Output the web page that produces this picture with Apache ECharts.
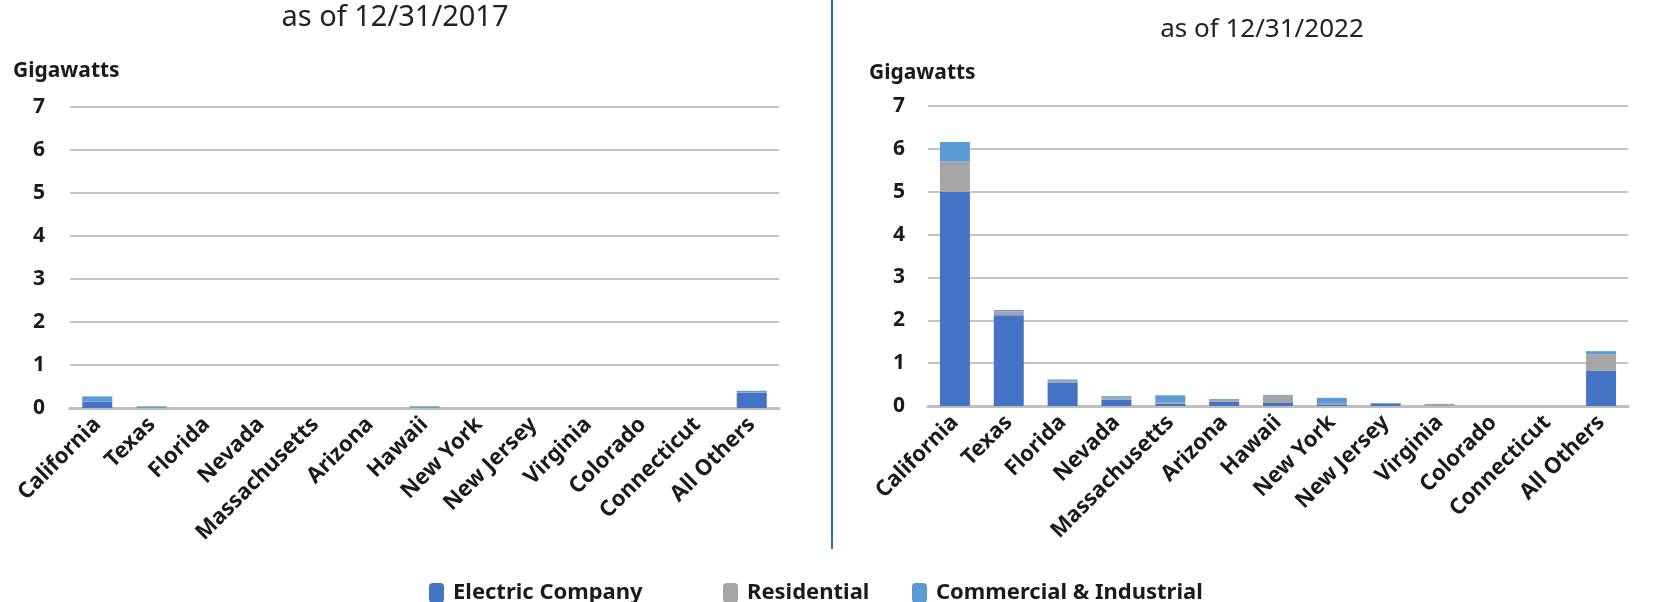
<!DOCTYPE html>
<html>
<head>
<meta charset="utf-8">
<script src="https://cdn.jsdelivr.net/npm/echarts@6/dist/echarts.min.js"></script>
<style>
html,body{margin:0;padding:0;background:#fff;}
#chart{width:1657px;height:602px;}
</style>
</head>
<body>
<div id="chart"></div>
<script>
const categories = ['California','Texas','Florida','Nevada','Massachusetts','Arizona','Hawaii','New York','New Jersey','Virginia','Colorado','Connecticut','All Others'];
const yTicks = [0,1,2,3,4,5,6,7];
const seriesNames = ['Electric Company','Residential','Commercial & Industrial'];
const titles = ['as of 12/31/2017','as of 12/31/2022'];
const yName = 'Gigawatts';

const elec2017 = [0.15,0.01,0,0,0,0,0.01,0,0,0,0,0,0.36];
const res2017  = [0,0,0,0,0,0,0,0,0,0,0,0,0.01];
const ci2017   = [0.12,0.03,0,0,0,0,0.03,0,0,0,0,0,0.03];

const elec2022 = [5.00,2.12,0.55,0.15,0.06,0.10,0.07,0.04,0.06,0.01,0,0,0.82];
const res2022  = [0.71,0.09,0.04,0.05,0.03,0.04,0.17,0.03,0,0.04,0,0,0.39];
const ci2022   = [0.45,0.03,0.03,0.03,0.16,0.02,0.02,0.12,0.01,0,0,0,0.07];

const colors = ['#4472C4','#A5A5A5','#5B9BD5'];
const FONT = '"Noto Sans", "Open Sans", sans-serif';

const chart = echarts.init(document.getElementById('chart'), null, {renderer:'canvas'});

function xAxisCfg(gridIndex){
  return {
    type:'category', gridIndex, data:categories,
    axisTick:{show:false},
    axisLine:{lineStyle:{color:'#BFBFBF', width:3}},
    axisLabel:{rotate:45, interval:0, margin:13, color:'#1a1a1a', fontFamily:FONT, fontWeight:'bold', fontSize:22}
  };
}
function yAxisCfg(gridIndex, margin){
  return {
    type:'value', gridIndex, min:yTicks[0], max:yTicks[yTicks.length-1], interval:1,
    axisLine:{show:false}, axisTick:{show:false},
    splitLine:{lineStyle:{color:'#C4C4C4', width:2}},
    axisLabel:{margin, color:'#1a1a1a', fontFamily:FONT, fontWeight:'bold', fontSize:21}
  };
}
const datasets = [[elec2017,res2017,ci2017],[elec2022,res2022,ci2022]];
const series = [];
datasets.forEach((ds, gi) => {
  ds.forEach((arr, si) => {
    series.push({
      name: seriesNames[si], type:'bar', stack:'s'+gi,
      xAxisIndex:gi, yAxisIndex:gi, barWidth:30,
      itemStyle:{color:colors[si]},
      data:arr
    });
  });
});

const legendLefts = [424, 718, 907];
const legends = seriesNames.map((n,i) => ({
  data:[{name:n, icon:'roundRect'}], left:legendLefts[i], top:577,
  itemWidth:15, itemHeight:20, itemGap:0,
  textStyle:{fontFamily:FONT, fontWeight:'bold', fontSize:22, color:'#1a1a1a', padding:[0,0,0,4]},
  selectedMode:false
}));

chart.setOption({
  animation:false,
  color:colors,
  grid:[
    {left:70, width:709, top:107, height:301},
    {left:928, width:700, top:106, height:300}
  ],
  xAxis:[xAxisCfg(0), xAxisCfg(1)],
  yAxis:[yAxisCfg(0,25), yAxisCfg(1,23)],
  legend:legends,
  series,
  graphic:[
    {type:'text', x:395, y:18, style:{text:titles[0], font:'29px '+FONT, fill:'#222', textAlign:'center', textVerticalAlign:'middle'}},
    {type:'text', x:1262, y:30, style:{text:titles[1], font:'26px '+FONT, fill:'#222', textAlign:'center', textVerticalAlign:'middle'}},
    {type:'text', x:13, y:71, style:{text:yName, font:'bold 21px '+FONT, fill:'#1a1a1a', textAlign:'left', textVerticalAlign:'middle'}},
    {type:'text', x:869, y:73, style:{text:yName, font:'bold 21px '+FONT, fill:'#1a1a1a', textAlign:'left', textVerticalAlign:'middle'}},
    {type:'line', shape:{x1:832, y1:0, x2:832, y2:549}, style:{stroke:'#1F6FBF', lineWidth:2}}
  ]
});
</script>
</body>
</html>
